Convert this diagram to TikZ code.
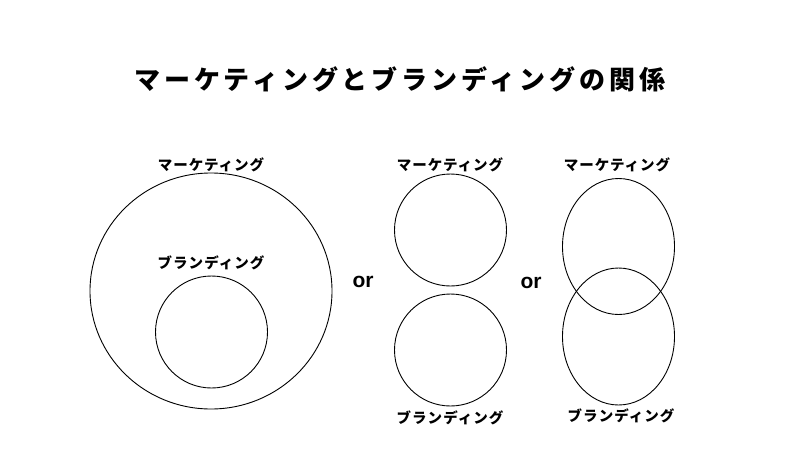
\documentclass[tikz,border=0pt]{standalone}
\usepackage{fontspec}
\newfontfamily\jpfont{Noto Sans CJK JP}
\newfontfamily\jptitle{Noto Sans CJK JP}[LetterSpace=15]
\newfontfamily\jplabel{Noto Sans CJK JP}[LetterSpace=7]
\newfontfamily\orfont{Liberation Sans}
\usetikzlibrary{shapes.geometric}
\begin{document}
\begin{tikzpicture}[x=1pt,y=-1pt,
  set/.style={draw=black, line width=0.9pt, ellipse, inner sep=0pt},
  lbl/.style={font=\jplabel\bfseries\fontsize{14.5}{16}\selectfont, inner sep=0pt},
  ortext/.style={font=\orfont\bfseries\fontsize{21}{22}\selectfont, inner sep=0pt}]
\useasboundingbox[fill=white] (0,0) rectangle (800,450);
\node[font=\jptitle\bfseries\fontsize{26}{30}\selectfont, inner sep=0pt] (title) at (400,79) {マーケティングとブランディングの関係};
% left
\node[set, minimum width=242pt, minimum height=236pt] (bigM) at (211,291) {};
\node[set, minimum width=112pt, minimum height=112pt] (smallB) at (211.5,332) {};
\node[lbl] (lm1) at (211,165) {マーケティング};
\node[lbl] (lb1) at (211,263) {ブランディング};
\node[ortext] (or1) at (363,282) {or};
% middle
\node[set, minimum width=112pt, minimum height=112pt] (midM) at (450.5,230) {};
\node[set, minimum width=112pt, minimum height=112pt] (midB) at (450.5,350) {};
\node[lbl] (lm2) at (450,165) {マーケティング};
\node[lbl] (lb2) at (450,418) {ブランディング};
\node[ortext] (or2) at (531,283) {or};
% right
\node[set, minimum width=112pt, minimum height=136pt] (rM) at (618.5,246.5) {};
\node[set, minimum width=112pt, minimum height=137pt] (rB) at (618.5,336.5) {};
\node[lbl] (lm3) at (617,165) {マーケティング};
\node[lbl] (lb3) at (621,416) {ブランディング};
\end{tikzpicture}
\end{document}
